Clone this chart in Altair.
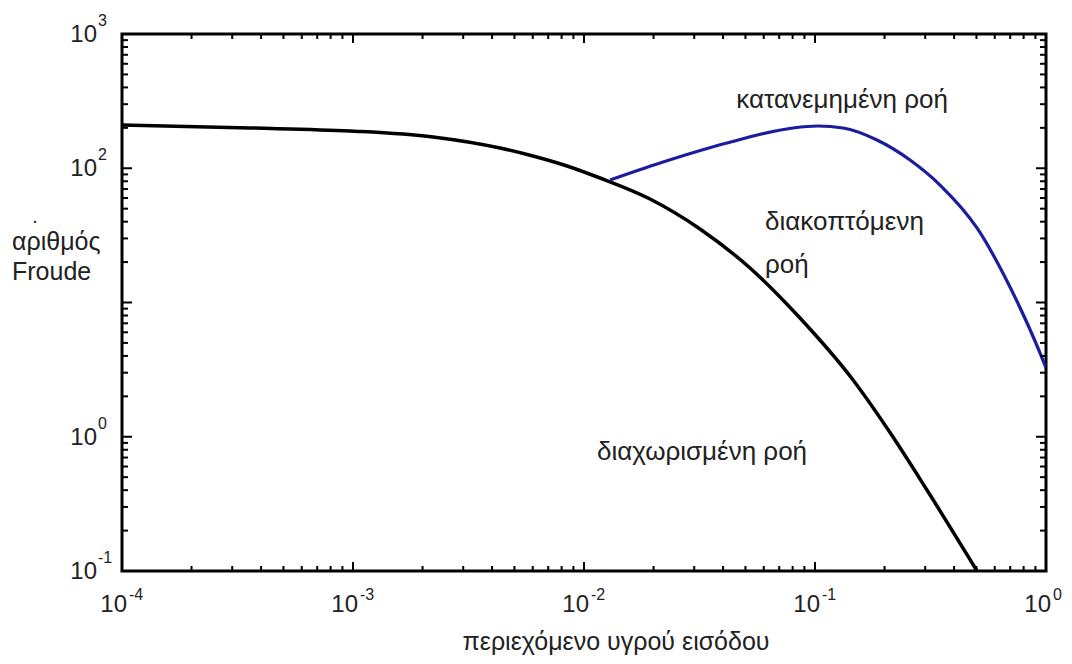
import altair as alt
import pandas as pd

# ---- data ----
black_x = [1e-4, 3.58e-4, 9.70e-4, 2.22e-3, 4.33e-3, 6.01e-3, 8.44e-3, 1.173e-2,
           1.931e-2, 3.178e-2, 5.232e-2, 8.61e-2, 0.1461, 0.2176, 0.3053, 0.5027]
black_y = [210, 199.6, 189.5, 171, 141.5, 123.4, 104, 84.6, 59.0, 35.3, 18.07,
           7.66, 2.647, 0.9956, 0.401, 0.1]

blue_x = [1.296e-2, 2.133e-2, 4.16e-2, 8.03e-2, 0.1030, 0.1322, 0.1855, 0.2578,
          0.3477, 0.5027, 0.6984, 0.9419, 1.0]
blue_y = [81.7, 109.4, 154.2, 199.5, 206.4, 199.5, 162.3, 115.2, 75.0, 35.9,
          13.05, 4.21, 3.25]

notes_center = ["κατανεμημένη ροή"]
notes_center_x = [0.131]
notes_center_y = [322]

notes_left = ["διακοπτόμενη", "ροή", "διαχωρισμένη ροή"]
notes_left_x = [0.0608, 0.0608, 0.01138]
notes_left_y = [39.8, 19.0, 0.77]

x_title = "περιεχόμενο υγρού εισόδου"
y_title = ["αριθμός", "Froude"]

x_major = [1e-4, 1e-3, 1e-2, 1e-1, 1.0]
x_exp = ["-4", "-3", "-2", "-1", "0"]
y_major = [0.1, 1.0, 10.0, 100.0, 1000.0]
y_label_vals = [0.1, 1.0, 100.0, 1000.0]   # the reference shows no 10^1 label
y_exp = ["-1", "0", "2", "3"]
mantissas = [2, 3, 4, 5, 6, 7, 8, 9]
x_minor = [m * v for v in x_major[:-1] for m in mantissas]
y_minor = [m * v for v in y_major[:-1] for m in mantissas]

# ---- layout ----
W, H = 924, 537
FONT = "Liberation Sans"
TXT = "#222222"

xs = alt.Scale(type="log", domain=[1e-4, 1.0], nice=False)
ys = alt.Scale(type="log", domain=[0.1, 1000.0], nice=False)

df_black = pd.DataFrame({"x": black_x, "y": black_y})
df_blue = pd.DataFrame({"x": blue_x, "y": blue_y})

black = alt.Chart(df_black).mark_line(color="black", strokeWidth=3.5,
                                      interpolate="monotone", clip=True).encode(
    x=alt.X("x:Q", scale=xs, axis=None),
    y=alt.Y("y:Q", scale=ys, axis=None),
)
blue = alt.Chart(df_blue).mark_line(color="#1c1c9e", strokeWidth=3.2,
                                    interpolate="monotone", clip=True).encode(
    x=alt.X("x:Q", scale=xs, axis=None),
    y=alt.Y("y:Q", scale=ys, axis=None),
)

def xticks(vals, length):
    d = pd.DataFrame({"v": vals})
    base = alt.Chart(d).mark_rule(color="black", strokeWidth=2)
    bottom = base.encode(x=alt.X("v:Q", scale=xs, axis=None),
                         y=alt.value(H), y2=alt.value(H - length))
    top = base.encode(x=alt.X("v:Q", scale=xs, axis=None),
                      y=alt.value(0), y2=alt.value(length))
    return [bottom, top]

def yticks(vals, length):
    d = pd.DataFrame({"v": vals})
    base = alt.Chart(d).mark_rule(color="black", strokeWidth=2)
    left = base.encode(y=alt.Y("v:Q", scale=ys, axis=None),
                       x=alt.value(0), x2=alt.value(length))
    right = base.encode(y=alt.Y("v:Q", scale=ys, axis=None),
                        x=alt.value(W), x2=alt.value(W - length))
    return [left, right]

tick_layers = xticks(x_major, 9) + xticks(x_minor, 5) + yticks(y_major, 10) + yticks(y_minor, 6)

df_xl = pd.DataFrame({"v": x_major, "e": x_exp})
df_yl = pd.DataFrame({"v": y_label_vals, "e": y_exp})

xl_base = alt.Chart(df_xl).mark_text(font=FONT, fontSize=24, color=TXT, align="right",
                                     baseline="middle", dx=5).encode(
    x=alt.X("v:Q", scale=xs, axis=None), y=alt.value(H + 34), text=alt.value("10"))
xl_exp = alt.Chart(df_xl).mark_text(font=FONT, fontSize=16, color=TXT, align="left",
                                    baseline="middle", dx=7).encode(
    x=alt.X("v:Q", scale=xs, axis=None), y=alt.value(H + 24), text="e:N")

yl_base = alt.Chart(df_yl).mark_text(font=FONT, fontSize=24, color=TXT, align="right",
                                     baseline="middle", dy=1).encode(
    y=alt.Y("v:Q", scale=ys, axis=None), x=alt.value(-25), text=alt.value("10"))
yl_exp = alt.Chart(df_yl).mark_text(font=FONT, fontSize=16, color=TXT, align="left",
                                    baseline="middle", dy=-13).encode(
    y=alt.Y("v:Q", scale=ys, axis=None), x=alt.value(-24), text="e:N")

df_nc = pd.DataFrame({"x": notes_center_x, "y": notes_center_y, "t": notes_center})
df_nl = pd.DataFrame({"x": notes_left_x, "y": notes_left_y, "t": notes_left})
nc = alt.Chart(df_nc).mark_text(font=FONT, fontSize=26, color=TXT, align="center",
                                baseline="middle").encode(
    x=alt.X("x:Q", scale=xs, axis=None), y=alt.Y("y:Q", scale=ys, axis=None), text="t:N")
nl = alt.Chart(df_nl).mark_text(font=FONT, fontSize=26, color=TXT, align="left",
                                baseline="middle").encode(
    x=alt.X("x:Q", scale=xs, axis=None), y=alt.Y("y:Q", scale=ys, axis=None), text="t:N")

# axis titles
xt = alt.Chart(pd.DataFrame({"t": [x_title]})).mark_text(
    font=FONT, fontSize=25, color=TXT, align="center", baseline="middle").encode(
    x=alt.value(494), y=alt.value(H + 71), text="t:N")
yt1 = alt.Chart(pd.DataFrame({"t": [y_title[0]]})).mark_text(
    font=FONT, fontSize=25, color=TXT, align="left", baseline="middle").encode(
    x=alt.value(-110), y=alt.value(208), text="t:N")
yt2 = alt.Chart(pd.DataFrame({"t": [y_title[1]]})).mark_text(
    font=FONT, fontSize=25, color=TXT, align="left", baseline="middle").encode(
    x=alt.value(-110), y=alt.value(238), text="t:N")

dot = alt.Chart(pd.DataFrame({"t": ["."]})).mark_text(
    font=FONT, fontSize=20, color=TXT, align="center", baseline="alphabetic").encode(
    x=alt.value(-87), y=alt.value(189), text="t:N")

chart = alt.layer(black, blue, *tick_layers, xl_base, xl_exp, yl_base, yl_exp,
                  nc, nl, xt, yt1, yt2, dot).properties(
    width=W, height=H,
    autosize=alt.AutoSizeParams(type="none"),
    padding={"left": 114, "top": 26, "right": 18, "bottom": 85},
    background="white",
).configure_view(stroke="black", strokeWidth=3)

chart.save("out.html", embed_options={"renderer": "svg", "actions": False})
